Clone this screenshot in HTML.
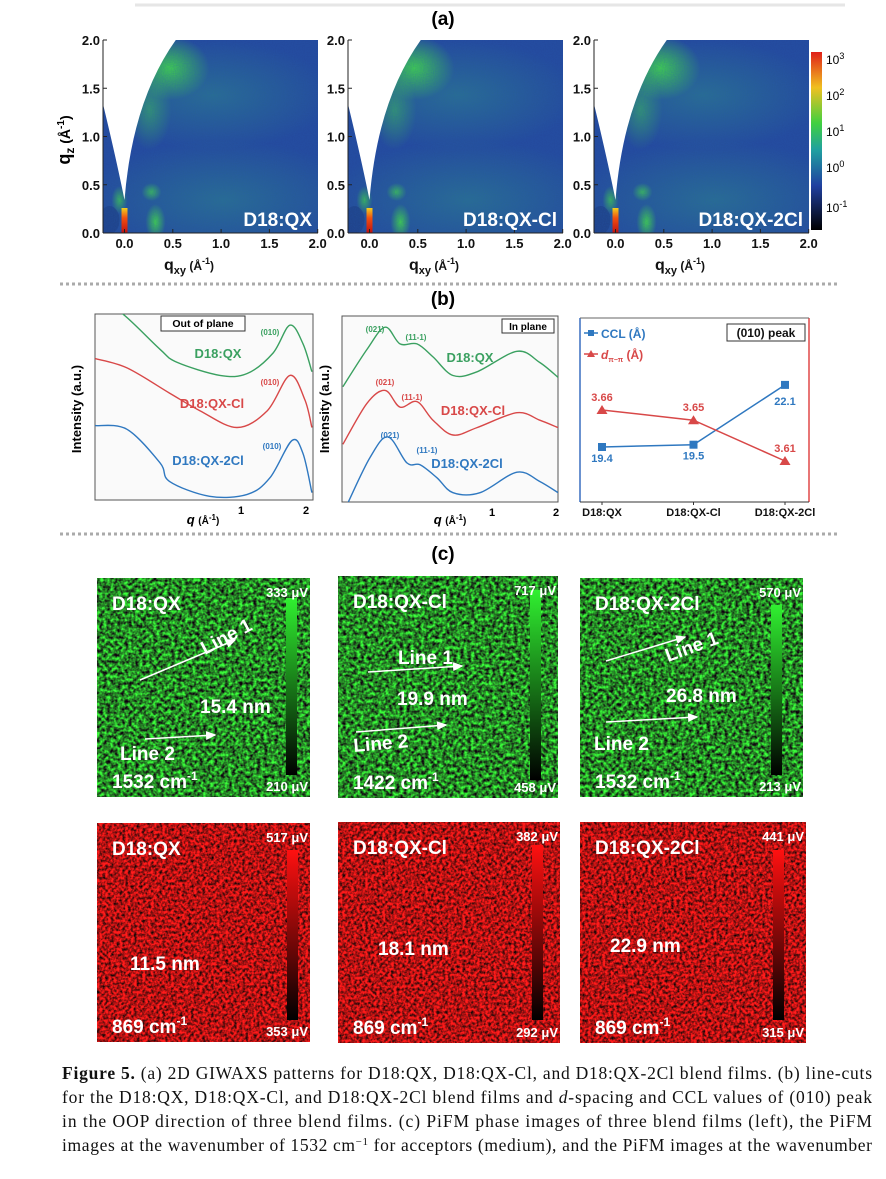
<!DOCTYPE html>
<html><head><meta charset="utf-8">
<style>
html,body{margin:0;padding:0;background:#fff;}
svg{display:block;font-family:"Liberation Sans",Arial,sans-serif;}
.b{font-weight:bold;}
.cap{font-family:"Liberation Serif",serif;font-size:17.5px;fill:#111;}
filter{color-interpolation-filters:sRGB;}
</style></head>
<body>
<svg id="fig" width="886" height="1179" viewBox="0 0 886 1179">
<defs>
 <filter id="nBlue" x="0" y="0" width="1" height="1" color-interpolation-filters="sRGB"><feTurbulence type="fractalNoise" baseFrequency="0.9" numOctaves="1" seed="2"/><feColorMatrix values="0 0 0 0 0.15  0 0 0 0 0.35  0 0 0 0 0.7  0 0 0 0.7 0"/></filter>
 <filter id="nGreen" x="0" y="0" width="1" height="1" color-interpolation-filters="sRGB"><feTurbulence type="fractalNoise" baseFrequency="0.28" numOctaves="2" seed="5"/><feColorMatrix values="0.3 0 0 0 0.0  1.9 0 0 0 -0.42  0.3 0 0 0 0.0  0 0 0 0 1"/></filter>
 <filter id="nRed" x="0" y="0" width="1" height="1" color-interpolation-filters="sRGB"><feTurbulence type="fractalNoise" baseFrequency="0.35" numOctaves="2" seed="9"/><feColorMatrix values="2.0 0 0 0 -0.3  0.15 0 0 0 0.0  0.15 0 0 0 0.0  0 0 0 0 1"/></filter>
 <linearGradient id="cbar" x1="0" y1="0" x2="0" y2="1">
  <stop offset="0" stop-color="#e0201a"/><stop offset="0.2" stop-color="#f0c020"/><stop offset="0.4" stop-color="#40d040"/><stop offset="0.55" stop-color="#20a0a0"/><stop offset="0.75" stop-color="#2040a0"/><stop offset="1" stop-color="#000"/>
 </linearGradient>
 <linearGradient id="gbar" x1="0" y1="0" x2="0" y2="1"><stop offset="0" stop-color="#30f030"/><stop offset="1" stop-color="#000"/></linearGradient>
 <linearGradient id="rbar" x1="0" y1="0" x2="0" y2="1"><stop offset="0" stop-color="#ff1010"/><stop offset="1" stop-color="#000"/></linearGradient>
 <radialGradient id="gblob"><stop offset="0" stop-color="#44e040" stop-opacity="0.95"/><stop offset="1" stop-color="#44e040" stop-opacity="0"/></radialGradient>
 <radialGradient id="cblob"><stop offset="0" stop-color="#30a080" stop-opacity="0.45"/><stop offset="1" stop-color="#30a080" stop-opacity="0"/></radialGradient>
 <linearGradient id="spike" x1="0" y1="0" x2="0" y2="1"><stop offset="0" stop-color="#f0d020"/><stop offset="0.4" stop-color="#f05010"/><stop offset="1" stop-color="#c01010"/></linearGradient>
 <marker id="ah" markerWidth="8" markerHeight="8" refX="6" refY="3" orient="auto"><path d="M0,0 L7,3 L0,6 Z" fill="#fff"/></marker>
</defs>

<line x1="135" y1="5" x2="845" y2="5" stroke="#e6e6e6" stroke-width="3"/>
<text x="443" y="25" text-anchor="middle" class="b" font-size="19">(a)</text>
<g id="giwaxs"></g>
<rect x="811" y="52" width="11" height="178" fill="url(#cbar)"/>
<g font-size="12">
 <text x="826" y="64">10<tspan dy="-5" font-size="9">3</tspan></text>
 <text x="826" y="100">10<tspan dy="-5" font-size="9">2</tspan></text>
 <text x="826" y="136">10<tspan dy="-5" font-size="9">1</tspan></text>
 <text x="826" y="172">10<tspan dy="-5" font-size="9">0</tspan></text>
 <text x="826" y="212">10<tspan dy="-5" font-size="9">-1</tspan></text>
</g>
<text transform="translate(70,140) rotate(-90)" text-anchor="middle" class="b" font-size="18">q<tspan font-size="12" dy="4">z</tspan><tspan dy="-4" font-size="14"> (Å</tspan><tspan dy="-6" font-size="10">-1</tspan><tspan dy="6" font-size="14">)</tspan></text>

<line x1="60" y1="284" x2="840" y2="284" stroke="#aaa" stroke-width="3" stroke-dasharray="3,3"/>
<text x="443" y="305" text-anchor="middle" class="b" font-size="19">(b)</text>

<g id="b1">
 <rect x="95" y="314" width="218" height="186" fill="#fafafa" stroke="#555" stroke-width="1"/>
</g>
<g id="b2">
 <rect x="342" y="316" width="216" height="186" fill="#fafafa" stroke="#555" stroke-width="1"/>
</g>
<g id="b3">
 <rect x="580" y="318" width="230" height="184" fill="#fff" stroke="none"/>
 <line x1="580" y1="318" x2="580" y2="502" stroke="#3a6fc0" stroke-width="1.5"/>
 <line x1="809" y1="318" x2="809" y2="502" stroke="#e04848" stroke-width="1.5"/>
 <line x1="580" y1="318" x2="809" y2="318" stroke="#666" stroke-width="1"/>
 <line x1="580" y1="502" x2="809" y2="502" stroke="#333" stroke-width="1"/>
</g>
<text transform="translate(81,409) rotate(-90)" text-anchor="middle" class="b" font-size="13">Intensity (a.u.)</text>
<text transform="translate(329,409) rotate(-90)" text-anchor="middle" class="b" font-size="13">Intensity (a.u.)</text>
<text x="203" y="524" text-anchor="middle" class="b" font-size="13"><tspan font-style="italic">q</tspan> <tspan font-size="10">(Å</tspan><tspan font-size="8" dy="-4">-1</tspan><tspan font-size="10" dy="4">)</tspan></text>
<text x="450" y="524" text-anchor="middle" class="b" font-size="13"><tspan font-style="italic">q</tspan> <tspan font-size="10">(Å</tspan><tspan font-size="8" dy="-4">-1</tspan><tspan font-size="10" dy="4">)</tspan></text>
<g font-size="11" class="b">
 <text x="241" y="514" text-anchor="middle">1</text><text x="306" y="514" text-anchor="middle">2</text>
 <text x="492" y="516" text-anchor="middle">1</text><text x="556" y="516" text-anchor="middle">2</text>
</g>
<g><rect x="161" y="316" width="84" height="15" fill="#fff" stroke="#333"/><text x="203" y="327" text-anchor="middle" font-size="10.5" class="b">Out of plane</text></g>
<g><rect x="502" y="319" width="52" height="14" fill="#fff" stroke="#333"/><text x="528" y="330" text-anchor="middle" font-size="10" class="b">In plane</text></g>

<line x1="60" y1="534" x2="840" y2="534" stroke="#aaa" stroke-width="3" stroke-dasharray="3,3"/>
<text x="443" y="560" text-anchor="middle" class="b" font-size="19">(c)</text>

<g id="pifm"></g>

<g class="cap">
 <text x="62" y="1079" textLength="810" lengthAdjust="spacing"><tspan font-weight="bold">Figure 5.</tspan> (a) 2D GIWAXS patterns for D18:QX, D18:QX-Cl, and D18:QX-2Cl blend films. (b) line-cuts</text>
 <text x="62" y="1103" textLength="810" lengthAdjust="spacing">for the D18:QX, D18:QX-Cl, and D18:QX-2Cl blend films and <tspan font-style="italic">d</tspan>-spacing and CCL values of (010) peak</text>
 <text x="62" y="1127" textLength="810" lengthAdjust="spacing">in the OOP direction of three blend films. (c) PiFM phase images of three blend films (left), the PiFM</text>
 <text x="62" y="1151" textLength="810" lengthAdjust="spacing">images at the wavenumber of 1532 cm<tspan font-size="11" dy="-6">−1</tspan><tspan dy="6"> for acceptors (medium), and the PiFM images at the wavenumber</tspan></text>
</g>
</svg>

<script>
const oopQ = [0.2, 0.277, 0.415, 0.5, 0.796, 1.07, 1.415, 1.7, 1.96, 2.16];
const oopQX = [110, 100, 81, 74, 67, 68, 79, 94, 84, 69];
const oopQ2 = [0.205, 0.29, 0.46, 0.64, 0.957, 1.33, 1.7, 2.0, 2.16];
const oopQXCl = [76, 71, 57.5, 48, 39, 48, 67, 54, 39];
const oopQ3 = [0.205, 0.29, 0.415, 0.46, 0.71, 1.07, 1.37, 1.74, 1.96, 2.16];
const oopQX2Cl = [40, 38, 20, 10, 2, 3, 12, 32, 25, 4];
const ipQ = [0.198, 0.257, 0.313, 0.368, 0.443, 0.527, 0.655, 0.85, 1.31, 1.68, 2.05];
const ipQX = [62, 82, 94, 85, 85, 78, 68, 70, 81, 75, 67];
const ipQXCl = [31, 53, 60, 51, 54, 44, 36, 40, 48, 44, 40];
const ipQ3 = [0.21, 0.266, 0.323, 0.397, 0.458, 0.55, 0.655, 0.878, 1.31, 1.68, 2.05];
const ipQX2Cl = [0, 24, 35, 21, 20, 13, 5, 5, 16, 11, 5];
const blends = ["D18:QX", "D18:QX-Cl", "D18:QX-2Cl"];
const cclVals = [19.4, 19.5, 22.1];
const dVals = [3.66, 3.65, 3.61];

const NS = "http://www.w3.org/2000/svg";
function mk(tag, attrs, parent) {
  const e = document.createElementNS(NS, tag);
  for (const k in attrs) e.setAttribute(k, attrs[k]);
  if (parent) parent.appendChild(e);
  return e;
}
function txt(parent, x, y, s, size, fill, anchor, extra) {
  const t = mk("text", {x: x, y: y, "font-size": size, fill: fill, "text-anchor": anchor || "start", "font-weight": "bold"}, parent);
  if (extra) for (const k in extra) t.setAttribute(k, extra[k]);
  t.textContent = s;
  return t;
}
const svg = document.getElementById("fig");

function xOOP(q) { return 241 + 212 * Math.log10(q); }
function yOOP(v) { return 500 - v * 1.86; }
function xIP(q) { return 492 + 212 * Math.log10(q); }
function yIP(v) { return 502 - v * 1.86; }

function smoothPath(xs, ys) {
  let d = "M" + xs[0].toFixed(1) + "," + ys[0].toFixed(1);
  for (let i = 0; i < xs.length - 1; i++) {
    const x0 = xs[Math.max(i - 1, 0)], y0 = ys[Math.max(i - 1, 0)];
    const x1 = xs[i], y1 = ys[i], x2 = xs[i + 1], y2 = ys[i + 1];
    const x3 = xs[Math.min(i + 2, xs.length - 1)], y3 = ys[Math.min(i + 2, xs.length - 1)];
    const c1x = x1 + (x2 - x0) / 6, c1y = y1 + (y2 - y0) / 6;
    const c2x = x2 - (x3 - x1) / 6, c2y = y2 - (y3 - y1) / 6;
    d += " C" + c1x.toFixed(1) + "," + c1y.toFixed(1) + " " + c2x.toFixed(1) + "," + c2y.toFixed(1) + " " + x2.toFixed(1) + "," + y2.toFixed(1);
  }
  return d;
}
mk("clipPath", {id: "clipB1"}, svg).appendChild(mk("rect", {x: 95, y: 314, width: 218, height: 186}));
mk("clipPath", {id: "clipB2"}, svg).appendChild(mk("rect", {x: 342, y: 316, width: 216, height: 186}));

const b1 = document.getElementById("b1"), b2 = document.getElementById("b2"), b3 = document.getElementById("b3");
const GREEN = "#3aa060", RED = "#d84848", BLUE = "#2f78c0";
function curve(parent, qs, vs, fx, fy, col, clip, name) {
  const p = mk("path", {d: smoothPath(qs.map(fx), vs.map(fy)), fill: "none", stroke: col, "stroke-width": 1.4, "clip-path": "url(#" + clip + ")"}, parent);
  
  
}
curve(b1, oopQ, oopQX, xOOP, yOOP, GREEN, "clipB1", "oop-curve-qx");
curve(b1, oopQ2, oopQXCl, xOOP, yOOP, RED, "clipB1", "oop-curve-qx-cl");
curve(b1, oopQ3, oopQX2Cl, xOOP, yOOP, BLUE, "clipB1", "oop-curve-qx-2cl");
curve(b2, ipQ, ipQX, xIP, yIP, GREEN, "clipB2", "ip-curve-qx");
curve(b2, ipQ, ipQXCl, xIP, yIP, RED, "clipB2", "ip-curve-qx-cl");
curve(b2, ipQ3, ipQX2Cl, xIP, yIP, BLUE, "clipB2", "ip-curve-qx-2cl");
txt(b1, 270, 335, "(010)", 8, GREEN, "middle"); txt(b1, 218, 358, "D18:QX", 13, GREEN, "middle");
txt(b1, 270, 385, "(010)", 8, RED, "middle"); txt(b1, 212, 408, "D18:QX-Cl", 13, RED, "middle");
txt(b1, 272, 449, "(010)", 8, BLUE, "middle"); txt(b1, 208, 465, "D18:QX-2Cl", 13, BLUE, "middle");
txt(b2, 375, 332, "(021)", 8, GREEN, "middle"); txt(b2, 416, 340, "(11-1)", 8, GREEN, "middle"); txt(b2, 470, 362, "D18:QX", 13, GREEN, "middle");
txt(b2, 385, 385, "(021)", 8, RED, "middle"); txt(b2, 412, 400, "(11-1)", 8, RED, "middle"); txt(b2, 473, 415, "D18:QX-Cl", 13, RED, "middle");
txt(b2, 390, 438, "(021)", 8, BLUE, "middle"); txt(b2, 427, 453, "(11-1)", 8, BLUE, "middle"); txt(b2, 467, 468, "D18:QX-2Cl", 13, BLUE, "middle");

function xCat(i) { return 602 + i * 91.5; }
function yCCL(v) { return 447 - (v - 19.4) * 23; }
function yD(v) { return 410 + (3.66 - v) * 1020; }
const cclLine = mk("polyline", {points: cclVals.map((v, i) => xCat(i) + "," + yCCL(v)).join(" "), fill: "none", stroke: BLUE, "stroke-width": 1.5}, b3);


const dLine = mk("polyline", {points: dVals.map((v, i) => xCat(i) + "," + yD(v)).join(" "), fill: "none", stroke: RED, "stroke-width": 1.5}, b3);


cclVals.forEach((v, i) => {
  const x = xCat(i), y = yCCL(v);
  const m = mk("rect", {x: x - 4, y: y - 4, width: 8, height: 8, fill: BLUE}, b3);
  
  
  const lab = txt(b3, x, i === 2 ? y + 20 : y + 15, v.toFixed(1), 11, BLUE, "middle");
  
  
});
dVals.forEach((v, i) => {
  const x = xCat(i), y = yD(v);
  const m = mk("path", {d: "M" + x + "," + (y - 5) + " L" + (x + 5.5) + "," + (y + 4) + " L" + (x - 5.5) + "," + (y + 4) + " Z", fill: RED}, b3);
  
  
  const lab = txt(b3, x, y - 9, v.toFixed(2), 11, RED, "middle");
  
  
});
blends.forEach((b, i) => {
  mk("line", {x1: xCat(i), y1: 502, x2: xCat(i), y2: 505, stroke: "#333"}, b3);
  const t = txt(b3, xCat(i), 516, b, 11, "#111", "middle");
  
  
});
mk("line", {x1: 584, y1: 333, x2: 598, y2: 333, stroke: BLUE, "stroke-width": 1.5}, b3);
mk("rect", {x: 588, y: 330, width: 6, height: 6, fill: BLUE}, b3);
txt(b3, 601, 338, "CCL (Å)", 12, BLUE);
mk("line", {x1: 584, y1: 354, x2: 598, y2: 354, stroke: RED, "stroke-width": 1.5}, b3);
mk("path", {d: "M591,350 L595,357 L587,357 Z", fill: RED}, b3);
const dl = txt(b3, 601, 359, "", 12, RED);
dl.innerHTML = '<tspan font-style="italic">d</tspan><tspan font-size="7" dy="3">π−π</tspan><tspan dy="-3"> (Å)</tspan>';
mk("rect", {x: 727, y: 324, width: 78, height: 17, fill: "#fff", stroke: "#333"}, b3);
txt(b3, 766, 337, "(010) peak", 12, "#111", "middle");

const ga = document.getElementById("giwaxs");
const panelsA = [{x0: 103, name: "D18:QX"}, {x0: 348, name: "D18:QX-Cl"}, {x0: 594, name: "D18:QX-2Cl"}];
const qxyTicks = ["0.0", "0.5", "1.0", "1.5", "2.0"];
const qzTicks = ["0.0", "0.5", "1.0", "1.5", "2.0"];
panelsA.forEach((p, k) => {
  const g = mk("g", {}, ga);
  
  
  const W = 215, top = 40, bot = 233;
  const x0 = p.x0, z = x0 + 21.5;
  const cid = "ca" + k;
  mk("clipPath", {id: cid}, svg).appendChild(mk("rect", {x: x0, y: top, width: W, height: bot - top}));
  const inner = mk("g", {"clip-path": "url(#" + cid + ")"}, g);
  mk("rect", {x: x0, y: top, width: W, height: bot - top, fill: "#24489a"}, inner);
  mk("ellipse", {cx: x0 + 120, cy: 200, rx: 140, ry: 60, fill: "url(#cblob)"}, inner);
  mk("ellipse", {cx: x0 + 110, cy: 95, rx: 120, ry: 55, fill: "url(#cblob)"}, inner);
  mk("ellipse", {cx: z + 45, cy: 68, rx: 40, ry: 32, fill: "url(#gblob)"}, inner);
  mk("ellipse", {cx: z + 25, cy: 110, rx: 22, ry: 40, fill: "url(#gblob)", opacity: 0.5}, inner);
  mk("ellipse", {cx: z + 31, cy: 222, rx: 10, ry: 18, fill: "url(#gblob)"}, inner);
  mk("ellipse", {cx: z + 27, cy: 192, rx: 10, ry: 9, fill: "url(#gblob)", opacity: 0.8}, inner);
  mk("ellipse", {cx: z - 5, cy: 200, rx: 8, ry: 14, fill: "url(#gblob)", opacity: 0.8}, inner);
  mk("ellipse", {cx: z - 15, cy: 220, rx: 10, ry: 14, fill: "#1c3a7a", opacity: 0.6}, inner);
  mk("rect", {x: x0, y: top, width: W, height: bot - top, filter: "url(#nBlue)", opacity: 0.6}, inner);
  mk("path", {d: "M" + x0 + "," + (top - 1) + " L" + x0 + "," + (top + 64) + " Q" + (z - 8) + "," + (top + 120) + " " + z + "," + (top + 160) + " Q" + (z + 8) + "," + (top + 60) + " " + (z + 52) + "," + (top - 1) + " Z", fill: "#fff"}, inner);
  mk("rect", {x: z - 3, y: 208, width: 6, height: 25, fill: "url(#spike)"}, inner);
  mk("line", {x1: x0, y1: top, x2: x0, y2: bot, stroke: "#222"}, g);
  mk("line", {x1: x0, y1: bot, x2: x0 + W, y2: bot, stroke: "#222"}, g);
  qzTicks.forEach((t, i) => {
    const y = bot - i * 48.25;
    mk("line", {x1: x0, y1: y, x2: x0 + 4, y2: y, stroke: "#222"}, g);
    txt(g, x0 - 3, y + 5, t, 13, "#111", "end");
  });
  qxyTicks.forEach((t, i) => {
    const x = z + i * 48.3;
    mk("line", {x1: x, y1: bot, x2: x, y2: bot - 4, stroke: "#222"}, g);
    txt(g, x, bot + 15, t, 13, "#111", "middle");
  });
  const lab = txt(g, x0 + W - 6, 226, p.name, 19, "#fff", "end");
  
  
  const xt = txt(g, x0 + 86, 270, "", 16, "#111", "middle");
  xt.innerHTML = 'q<tspan font-size="11" dy="4">xy</tspan><tspan dy="-4" font-size="12"> (Å</tspan><tspan dy="-6" font-size="9">-1</tspan><tspan dy="6" font-size="12">)</tspan>';
  
  
});

const gc = document.getElementById("pifm");
const imgs = [
 {x:97,y:578,w:213,h:219,f:"nGreen",bar:"gbar",bx:286,by:598,bh:177,name:"D18:QX",top:"333 μV",bot:"210 μV",size:"15.4 nm",sx:200,sy:713,wn:"1532",l1:[140,680,235,640],l1t:[205,655,-28],l2:[145,739,215,735],l2t:[120,760,0]},
 {x:338,y:576,w:220,h:222,f:"nGreen",bar:"gbar",bx:530,by:590,bh:190,name:"D18:QX-Cl",top:"717 μV",bot:"458 μV",size:"19.9 nm",sx:397,sy:705,wn:"1422",l1:[368,672,462,666],l1t:[398,664,0],l2:[356,732,446,725],l2t:[354,752,-5]},
 {x:580,y:578,w:223,h:219,f:"nGreen",bar:"gbar",bx:771,by:605,bh:170,name:"D18:QX-2Cl",top:"570 μV",bot:"213 μV",size:"26.8 nm",sx:666,sy:702,wn:"1532",l1:[606,661,685,637],l1t:[668,662,-20],l2:[606,722,697,717],l2t:[594,750,0]},
 {x:97,y:823,w:213,h:219,f:"nRed",bar:"rbar",bx:287,by:850,bh:170,name:"D18:QX",top:"517 μV",bot:"353 μV",size:"11.5 nm",sx:130,sy:970,wn:"869"},
 {x:338,y:822,w:222,h:221,f:"nRed",bar:"rbar",bx:532,by:845,bh:175,name:"D18:QX-Cl",top:"382 μV",bot:"292 μV",size:"18.1 nm",sx:378,sy:955,wn:"869"},
 {x:580,y:822,w:226,h:221,f:"nRed",bar:"rbar",bx:773,by:850,bh:170,name:"D18:QX-2Cl",top:"441 μV",bot:"315 μV",size:"22.9 nm",sx:610,sy:952,wn:"869"}
];
imgs.forEach((m) => {
  const g = mk("g", {}, gc);
  
  
  mk("rect", {x: m.x, y: m.y, width: m.w, height: m.h, filter: "url(#" + m.f + ")"}, g);
  mk("rect", {x: m.bx, y: m.by, width: 11, height: m.bh, fill: "url(#" + m.bar + ")"}, g);
  txt(g, m.x + 15, m.y + 32, m.name, 19, "#fff");
  txt(g, m.x + m.w - 2, m.y + 19, m.top, 13, "#fff", "end");
  txt(g, m.x + m.w - 2, m.y + m.h - 6, m.bot, 13, "#fff", "end");
  txt(g, m.sx, m.sy, m.size, 19, "#fff");
  const w = txt(g, m.x + 15, m.y + m.h - 9, "", 19, "#fff");
  w.innerHTML = m.wn + ' cm<tspan font-size="12" dy="-8">-1</tspan>';
  if (m.l1) {
    mk("line", {x1: m.l1[0], y1: m.l1[1], x2: m.l1[2], y2: m.l1[3], stroke: "#fff", "stroke-width": 1.5, "marker-end": "url(#ah)"}, g);
    txt(g, m.l1t[0], m.l1t[1], "Line 1", 19, "#fff", "start", {transform: "rotate(" + m.l1t[2] + " " + m.l1t[0] + " " + m.l1t[1] + ")"});
    mk("line", {x1: m.l2[0], y1: m.l2[1], x2: m.l2[2], y2: m.l2[3], stroke: "#fff", "stroke-width": 1.5, "marker-end": "url(#ah)"}, g);
    txt(g, m.l2t[0], m.l2t[1], "Line 2", 19, "#fff", "start", {transform: "rotate(" + m.l2t[2] + " " + m.l2t[0] + " " + m.l2t[1] + ")"});
  }
});
</script>
</body></html>
